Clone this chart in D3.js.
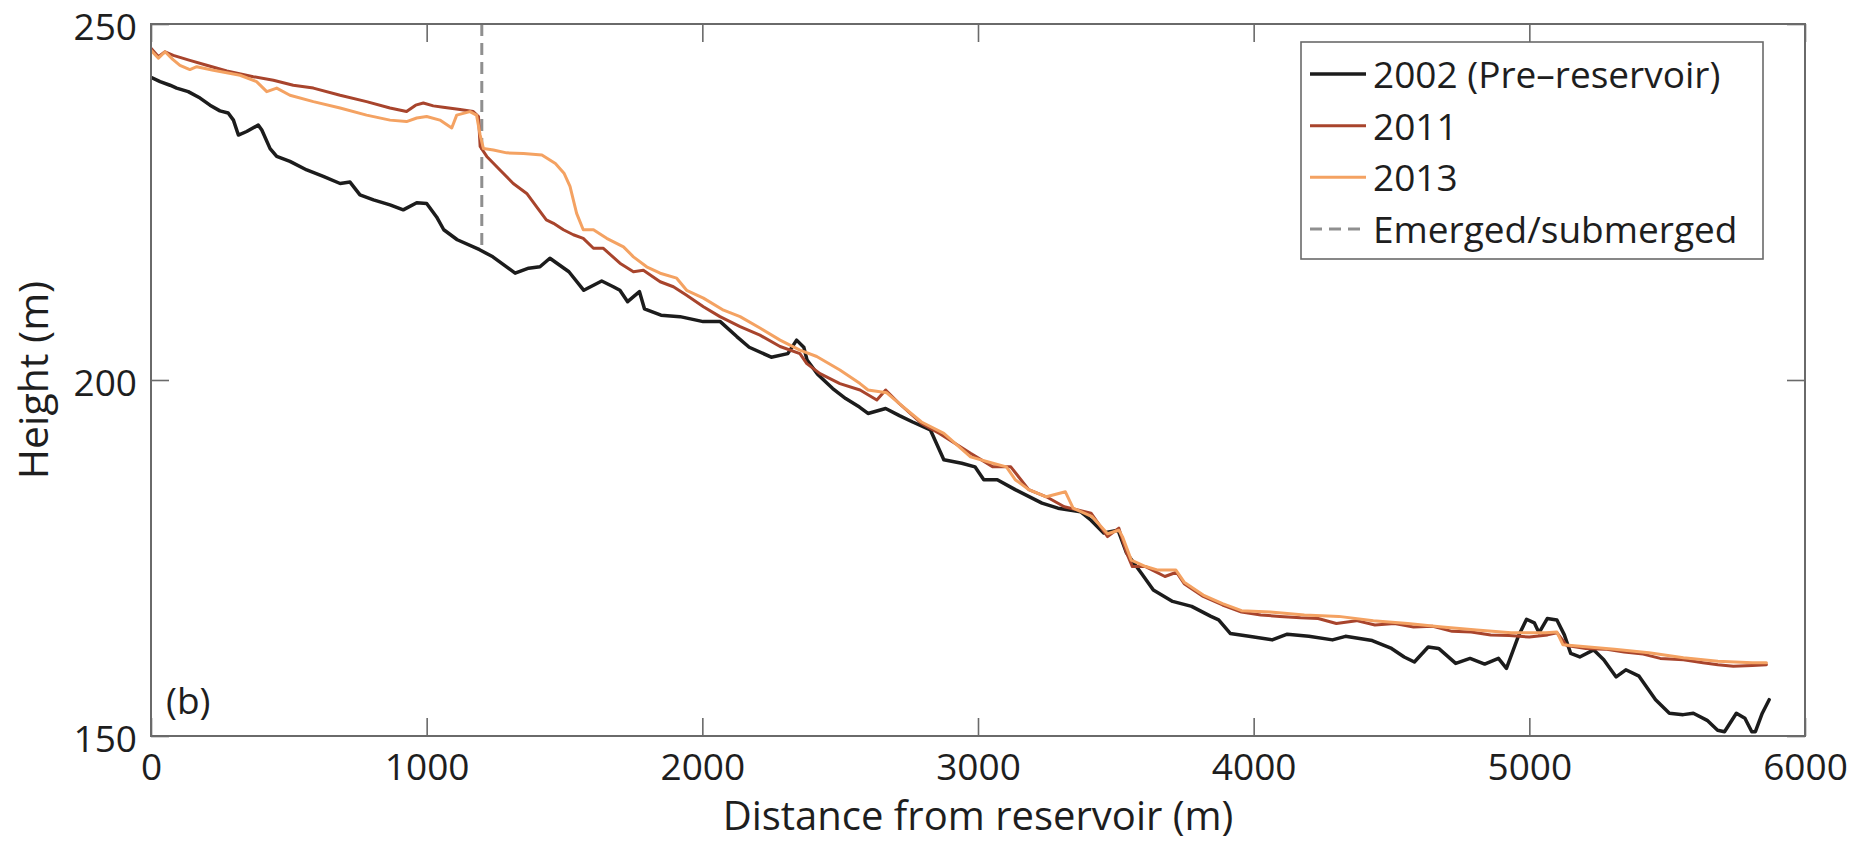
<!DOCTYPE html>
<html>
<head>
<meta charset="utf-8">
<script src="https://cdn.jsdelivr.net/npm/d3@7"></script>
<style>
  html, body { margin: 0; padding: 0; background: #fff; }
  svg { display: block; }
  text { font-family: "Open Sans", "Noto Sans", sans-serif; fill: #1e1e1e; }
</style>
</head>
<body>
<svg id="chart" width="1851" height="844"></svg>
<script>
// ---------------- data ----------------
const xTicks = [0, 1000, 2000, 3000, 4000, 5000, 6000];
const yTicks = [150, 200, 250];
const xLabel = "Distance from reservoir (m)";
const yLabel = "Height (m)";
const panelLabel = "(b)";
const seriesNames = ["2002 (Pre\u2013reservoir)", "2011", "2013"];
const boundaryName = "Emerged/submerged";
const boundaryDistance = 1200;
const boundaryBottom = 218.3;

// [distance (m), height (m)]
const profile2002 = [
  [0,242.5],[33,241.9],[69,241.4],[93,241.0],[135,240.5],[178,239.6],[214,238.6],[250,237.8],[280,237.5],
  [299,236.5],[317,234.4],[347,234.9],[389,235.8],[402,235.1],[432,232.5],[456,231.4],[504,230.7],[565,229.5],
  [625,228.6],[686,227.6],[722,227.8],[758,226.0],[807,225.3],[867,224.6],[915,223.9],[964,224.9],[1000,224.8],
  [1036,222.9],[1062,221.1],[1111,219.7],[1192,218.3],[1240,217.3],[1321,215.0],[1370,215.7],[1411,215.9],
  [1447,217.1],[1516,215.2],[1570,212.6],[1635,213.9],[1677,213.1],[1701,212.6],[1729,211.0],[1772,212.4],
  [1790,210.0],[1850,209.1],[1919,208.9],[2003,208.2],[2065,208.2],[2125,206.1],[2170,204.6],[2250,203.2],
  [2310,203.7],[2342,205.6],[2368,204.6],[2380,202.8],[2418,200.8],[2473,198.8],[2520,197.4],[2570,196.2],
  [2601,195.3],[2665,196.0],[2715,195.0],[2763,194.1],[2827,193.0],[2876,188.8],[2941,188.3],[2989,187.8],
  [3021,186.0],[3070,186.0],[3135,184.6],[3232,182.7],[3290,182.0],[3372,181.5],[3410,180.3],[3456,178.5],
  [3508,178.9],[3539,175.7],[3594,172.8],[3636,170.5],[3706,168.9],[3775,168.2],[3845,166.8],[3873,166.3],
  [3915,164.4],[3983,164.0],[4067,163.5],[4122,164.3],[4200,164.0],[4286,163.5],[4333,164.0],[4430,163.4],
  [4500,162.3],[4546,161.1],[4583,160.4],[4633,162.5],[4671,162.3],[4733,160.2],[4785,160.9],[4838,160.1],
  [4888,160.9],[4917,159.5],[4960,164.0],[4990,166.4],[5018,165.9],[5035,164.5],[5065,166.5],[5100,166.3],
  [5127,164.2],[5150,161.6],[5183,161.1],[5233,162.1],[5270,160.7],[5315,158.3],[5350,159.3],[5398,158.4],
  [5458,155.1],[5508,153.2],[5558,153.0],[5595,153.2],[5645,152.2],[5683,150.8],[5708,150.6],[5751,153.2],
  [5782,152.5],[5807,150.6],[5820,150.6],[5845,153.2],[5870,155.1]
];
const profile2011 = [
  [0,246.6],[27,245.4],[51,246.1],[81,245.6],[141,244.9],[202,244.2],[275,243.4],[371,242.6],[444,242.1],
  [516,241.4],[589,241.0],[686,240.0],[782,239.1],[867,238.2],[927,237.7],[960,238.6],[988,238.9],[1024,238.5],
  [1060,238.3],[1121,238.0],[1169,237.7],[1188,237.0],[1194,232.8],[1218,231.4],[1266,229.5],[1314,227.6],
  [1363,226.2],[1399,224.3],[1434,222.5],[1460,222.0],[1496,221.1],[1532,220.4],[1568,219.9],[1605,218.5],
  [1641,218.5],[1701,216.4],[1750,215.2],[1786,215.4],[1847,213.8],[1895,213.1],[1943,211.9],[2004,210.3],
  [2064,208.9],[2137,207.5],[2209,206.3],[2282,204.7],[2354,203.7],[2379,202.3],[2427,200.9],[2499,199.5],
  [2572,198.6],[2633,197.2],[2665,198.6],[2714,196.7],[2795,193.9],[2860,192.5],[2973,189.7],[3054,187.8],
  [3119,187.8],[3184,184.6],[3248,183.6],[3313,182.2],[3410,181.3],[3470,178.0],[3511,179.2],[3539,175.7],
  [3560,173.8],[3608,173.8],[3678,172.4],[3720,173.0],[3748,171.4],[3817,169.6],[3887,168.4],[3956,167.4],
  [4026,167.0],[4095,166.8],[4170,166.6],[4234,166.5],[4300,165.8],[4373,166.2],[4440,165.6],[4511,165.8],
  [4580,165.3],[4650,165.4],[4720,164.7],[4789,164.6],[4860,164.2],[4927,164.1],[5000,163.9],[5066,164.2],
  [5100,164.5],[5136,162.7],[5205,162.3],[5275,162.2],[5344,161.8],[5413,161.5],[5475,160.9],[5559,160.7],
  [5630,160.3],[5684,160.0],[5740,159.8],[5809,159.9],[5860,160.0]
];
const profile2013 = [
  [0,246.3],[27,245.2],[51,246.1],[80,245.0],[105,244.2],[141,243.6],[166,244.0],[226,243.5],[323,242.8],
  [383,241.9],[420,240.5],[456,241.0],[504,240.0],[589,239.1],[686,238.2],[782,237.2],[867,236.5],[927,236.3],
  [964,236.8],[1000,237.0],[1048,236.5],[1091,235.4],[1109,237.2],[1157,237.7],[1181,237.2],[1194,234.4],
  [1206,232.5],[1242,232.3],[1290,231.9],[1351,231.8],[1418,231.6],[1467,230.4],[1499,229.0],[1520,227.2],
  [1544,223.4],[1568,221.1],[1605,221.1],[1653,219.9],[1714,218.7],[1750,217.3],[1798,215.9],[1847,215.0],
  [1907,214.3],[1943,212.6],[2004,211.5],[2077,209.8],[2137,208.9],[2209,207.3],[2282,205.6],[2354,204.2],
  [2415,203.3],[2499,201.4],[2572,199.5],[2601,198.6],[2669,198.2],[2730,196.2],[2795,194.1],[2876,192.5],
  [2973,189.2],[3054,188.3],[3103,187.8],[3135,186.0],[3184,184.6],[3248,183.6],[3317,184.3],[3345,182.0],
  [3414,180.8],[3470,178.4],[3511,178.9],[3524,178.0],[3556,174.7],[3608,173.8],[3653,173.3],[3718,173.3],
  [3748,171.6],[3817,169.8],[3887,168.6],[3956,167.6],[4060,167.4],[4184,167.0],[4309,166.8],[4434,166.2],
  [4559,165.8],[4684,165.3],[4809,164.9],[4934,164.5],[5059,164.5],[5100,164.6],[5122,162.8],[5184,162.6],
  [5309,162.2],[5434,161.7],[5559,161.0],[5684,160.5],[5809,160.3],[5860,160.3]
];
const seriesColors = ["#1c1c1c", "#a8442c", "#f4a262"];
const seriesWidths = [3.5, 3, 3];

// ---------------- layout ----------------
const svg = d3.select("#chart");
const plot = { left: 151, right: 1805, top: 24, bottom: 736 };
const x = d3.scaleLinear().domain([0, 6000]).range([plot.left, plot.right]);
const y = d3.scaleLinear().domain([150, 250]).range([plot.bottom, plot.top]);
const frameColor = "#6a6a6a";
const tickLen = 18;
const fontSize = 37;

const defs = svg.append("defs");
defs.append("clipPath").attr("id", "clip").append("rect")
  .attr("x", plot.left).attr("y", plot.top)
  .attr("width", plot.right - plot.left).attr("height", plot.bottom - plot.top);

// boundary dashed line
svg.append("line")
  .attr("x1", x(boundaryDistance)).attr("x2", x(boundaryDistance))
  .attr("y1", y(250)).attr("y2", y(boundaryBottom))
  .attr("stroke", "#8f8f8f").attr("stroke-width", 3)
  .attr("stroke-dasharray", "12,7");

// series
const line = d3.line().x(d => x(d[0])).y(d => y(d[1]));
const profiles = [profile2002, profile2011, profile2013];
const g = svg.append("g").attr("clip-path", "url(#clip)");
profiles.forEach((p, i) => {
  g.append("path").datum(p)
    .attr("d", line)
    .attr("fill", "none")
    .attr("stroke", seriesColors[i])
    .attr("stroke-width", seriesWidths[i])
    .attr("stroke-linejoin", "round")
    .attr("stroke-linecap", "round");
});

// axes (ticks inward on all sides)
function styleAxis(sel) {
  sel.select(".domain").remove();
  sel.selectAll(".tick line").attr("stroke", frameColor).attr("stroke-width", 1.6);
  sel.selectAll(".tick text").style("font-size", fontSize + "px")
    .style("font-family", "'Open Sans', sans-serif").attr("fill", "#1e1e1e");
}
const xBottom = svg.append("g").attr("transform", `translate(0,${plot.bottom})`)
  .call(d3.axisBottom(x).tickValues(xTicks).tickFormat(d3.format("d"))
    .tickSizeInner(-tickLen).tickSizeOuter(0).tickPadding(18));
styleAxis(xBottom);
const xTop = svg.append("g").attr("transform", `translate(0,${plot.top})`)
  .call(d3.axisTop(x).tickValues(xTicks).tickFormat("").tickSizeInner(-tickLen).tickSizeOuter(0));
styleAxis(xTop);
const yLeft = svg.append("g").attr("transform", `translate(${plot.left},0)`)
  .call(d3.axisLeft(y).tickValues(yTicks).tickFormat(d3.format("d"))
    .tickSizeInner(-tickLen).tickSizeOuter(0).tickPadding(14));
styleAxis(yLeft);
yLeft.selectAll(".tick text").attr("dy", "0.42em");
const yRight = svg.append("g").attr("transform", `translate(${plot.right},0)`)
  .call(d3.axisRight(y).tickValues(yTicks).tickFormat("").tickSizeInner(-tickLen).tickSizeOuter(0));
styleAxis(yRight);

// frame
svg.append("rect")
  .attr("x", plot.left).attr("y", plot.top)
  .attr("width", plot.right - plot.left).attr("height", plot.bottom - plot.top)
  .attr("fill", "none").attr("stroke", frameColor).attr("stroke-width", 2);

// axis labels
svg.append("text")
  .attr("x", (plot.left + plot.right) / 2).attr("y", 830)
  .attr("text-anchor", "middle").style("font-size", "40px")
  .text(xLabel);
svg.append("text")
  .attr("transform", `translate(48,${(plot.top + plot.bottom) / 2}) rotate(-90)`)
  .attr("text-anchor", "middle").style("font-size", "41px")
  .text(yLabel);

// panel label
svg.append("text")
  .attr("x", 166).attr("y", 714)
  .style("font-size", fontSize + "px")
  .text(panelLabel);

// legend
const leg = { left: 1301, top: 42, right: 1763, bottom: 259 };
svg.append("rect")
  .attr("x", leg.left).attr("y", leg.top)
  .attr("width", leg.right - leg.left).attr("height", leg.bottom - leg.top)
  .attr("fill", "#fff").attr("stroke", frameColor).attr("stroke-width", 1.6);
const legendItems = seriesNames.map((n, i) => ({ name: n, color: seriesColors[i], width: seriesWidths[i], dash: null }))
  .concat([{ name: boundaryName, color: "#8f8f8f", width: 3, dash: "12,7" }]);
const rowY = d3.scaleLinear().domain([0, 3]).range([74, 229]);
legendItems.forEach((it, i) => {
  const cy = rowY(i);
  svg.append("line")
    .attr("x1", 1310).attr("x2", 1366).attr("y1", cy).attr("y2", cy)
    .attr("stroke", it.color).attr("stroke-width", it.width)
    .attr("stroke-dasharray", it.dash);
  svg.append("text")
    .attr("x", 1373).attr("y", cy + 14)
    .style("font-size", fontSize + "px")
    .text(it.name);
});
</script>
</body>
</html>
